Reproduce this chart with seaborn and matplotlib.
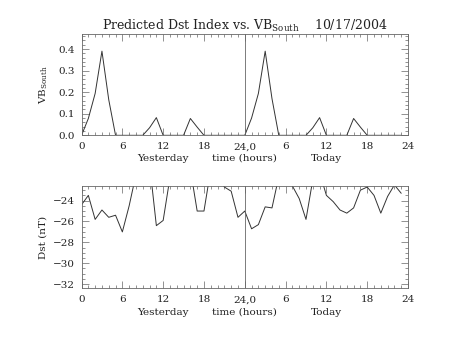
import numpy as np
import pandas as pd
import matplotlib
matplotlib.use("Agg")
import matplotlib.pyplot as plt
import seaborn as sns
from matplotlib.ticker import MultipleLocator, FixedLocator
import matplotlib.transforms as mtransforms

title_text = "Predicted Dst Index vs. VB$_{\\mathregular{South}}$    10/17/2004"
hours = list(range(48))
vb_south = [0.0, 0.078, 0.194, 0.39, 0.165, 0.0, 0.0, 0.0, 0.0, 0.0,
            0.035, 0.082, 0.0, 0.0, 0.0, 0.0, 0.078, 0.038, 0.0, 0.0,
            0.0, 0.0, 0.0, 0.0, 0.0, 0.08, 0.194, 0.39, 0.17, 0.0,
            0.0, 0.0, 0.0, 0.0, 0.035, 0.082, 0.0, 0.0, 0.0, 0.0,
            0.078, 0.038, 0.0, 0.0, 0.0, 0.0, 0.0, 0.0]
dst = [-24.4, -23.5, -25.8, -24.9, -25.6, -25.4, -27.0, -24.5, -21.5, -21.5,
       -20.5, -26.4, -25.9, -21.8, -21.0, -21.0, -21.0, -25.0, -25.0, -21.0,
       -21.5, -22.7, -23.1, -25.6, -25.0, -26.7, -26.3, -24.6, -24.7, -21.7,
       -21.5, -22.6, -23.8, -25.8, -22.0, -21.3, -23.5, -24.1, -24.9, -25.2,
       -24.7, -23.0, -22.7, -23.5, -25.2, -23.6, -22.5, -23.3]
xtick_pos = [0, 6, 12, 18, 24, 30, 36, 42, 48]
xtick_labels = ["0", "6", "12", "18", "24,0", "6", "12", "18", "24"]
day_labels = ["Yesterday", "time (hours)", "Today"]
day_label_pos = [12, 24, 36]

df = pd.DataFrame({"hour": hours, "vb": vb_south, "dst": dst})

sns.set_style("ticks")
plt.rcParams["font.family"] = ["DejaVu Serif"]
plt.rcParams["mathtext.fontset"] = "dejavuserif"

fig = plt.figure(figsize=(4.53, 3.40), dpi=100)
ax1 = fig.add_axes([0.180, 0.602, 0.7207, 0.297])
ax2 = fig.add_axes([0.180, 0.152, 0.7207, 0.301])

col = "#333333"
fs = 7.5

def style(ax, ymaj, ymin, dy):
    ax.set_xlim(0, 48)
    ax.xaxis.set_major_locator(FixedLocator(xtick_pos))
    ax.set_xticklabels(xtick_labels)
    ax.xaxis.set_minor_locator(MultipleLocator(1))
    ax.yaxis.set_major_locator(MultipleLocator(ymaj))
    ax.yaxis.set_minor_locator(MultipleLocator(ymin))
    ax.tick_params(which="both", direction="in", top=True, right=True,
                   color="#666666", width=0.5, labelsize=fs, labelcolor="#222222")
    ax.tick_params(which="major", length=5, pad=5)
    ax.tick_params(which="minor", length=2.5)
    for s in ax.spines.values():
        s.set_color("#666666")
        s.set_linewidth(0.6)
    ax.axvline(24, color="#666666", lw=0.6)
    ax.set_xlabel("")
    trans = mtransforms.blended_transform_factory(ax.transData, ax.transAxes)
    for lab, pos in zip(day_labels, day_label_pos):
        ax.text(pos, dy, lab, transform=trans, ha="center", va="baseline",
                fontsize=fs, color="#222222")

sns.lineplot(data=df, x="hour", y="vb", ax=ax1, color=col, lw=0.7, estimator=None)
ax1.set_ylim(0, 0.468)
style(ax1, 0.1, 0.02, -0.25)
ax1.yaxis.set_major_formatter(matplotlib.ticker.FormatStrFormatter("%.1f"))
ax1.set_ylabel("VB$_{\\mathregular{South}}$", fontsize=fs, color="#222222", labelpad=6)

sns.lineplot(data=df, x="hour", y="dst", ax=ax2, color=col, lw=0.7, estimator=None)
ax2.set_ylim(-32.4, -22.6)
style(ax2, 2, 0.5, -0.26)
ax2.set_ylabel("Dst (nT)", fontsize=fs, color="#222222", labelpad=4)

fig.text(0.54, 0.925, title_text, ha="center", va="center", fontsize=9, color="#222222")

fig.savefig("out.png", dpi=100)
